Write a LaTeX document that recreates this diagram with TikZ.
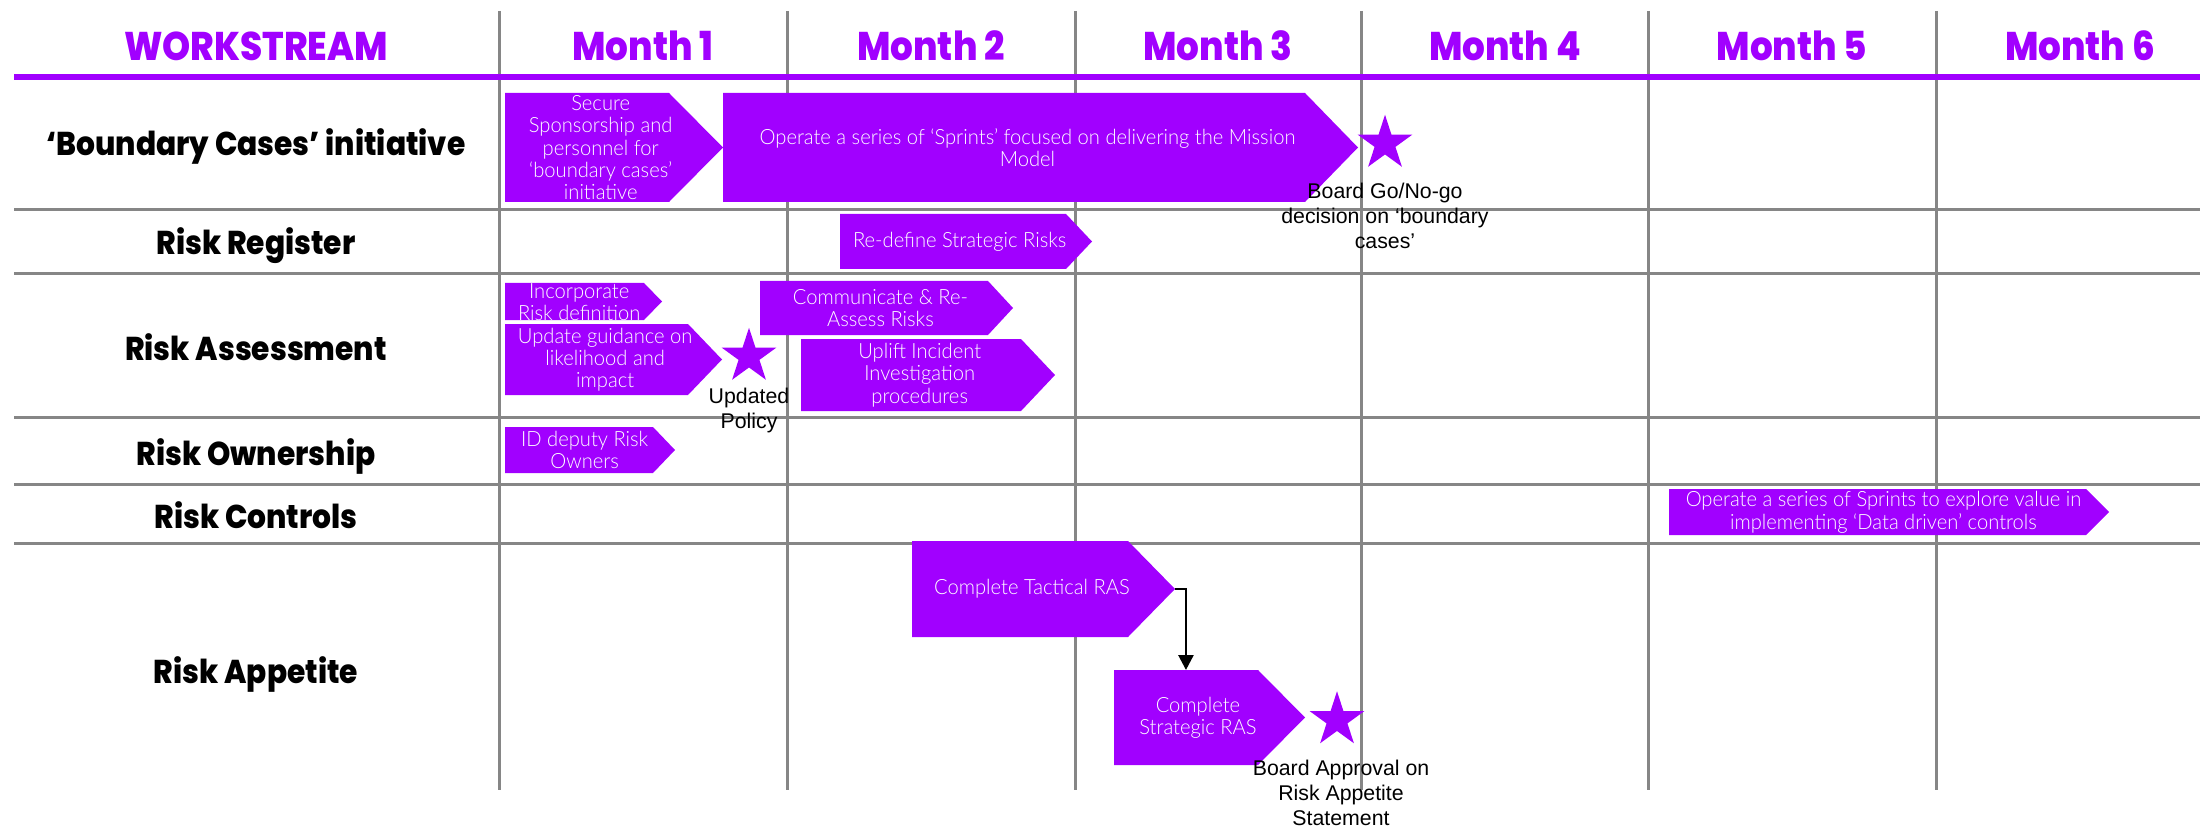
\documentclass[tikz,border=0pt]{standalone}
\usepackage{fontspec}
\usetikzlibrary{shapes.geometric,arrows.meta}
\setmainfont{Liberation Sans}
\IfFontExistsTF{Poppins ExtraBold}{\newfontfamily\heavy{Poppins ExtraBold}}{%
  \IfFontExistsTF{Poppins Bold}{\newfontfamily\heavy{Poppins Bold}}{\newfontfamily\heavy{Liberation Sans}[FakeBold=2]}}
\IfFontExistsTF{Lato Light}{\newfontfamily\boxfont{Lato Light}[FakeStretch=0.96]}{\newfontfamily\boxfont{Liberation Sans}}
\definecolor{accpurple}{HTML}{A100FF}
\definecolor{gridgray}{HTML}{868686}
\newcommand\hd[1]{\scalebox{0.895}[1]{#1}}
\newcommand\rl[1]{\scalebox{0.9}[1]{#1}}
% pentagon arrow box: name, left, top, point start, tip, bottom, text
\newcommand\pent[7]{%
  \fill[accpurple] (#2,#3) -- (#4,#3) -- (#5,{(#3+#6)/2}) -- (#4,#6) -- (#2,#6) -- cycle;
  \coordinate (#1tip) at (#5,{(#3+#6)/2});
  \node[boxtxt, minimum width={(#4+#5)/2-#2}, minimum height={#6-#3}] (#1) at (#2,#3) {#7};
}
\begin{document}
\begin{tikzpicture}[x=1pt,y=-1pt,
  gridline/.style={draw=gridgray, line width=3pt},
  hdrline/.style={draw=accpurple, line width=5.5pt},
  hdr/.style={text=accpurple, font=\heavy\fontsize{40}{44}\selectfont, anchor=base, inner sep=0pt},
  rowlbl/.style={text=black, font=\heavy\fontsize{33}{38}\selectfont, anchor=base, inner sep=0pt},
  boxtxt/.style={text=white, font=\boxfont\fontsize{21}{22.4}\selectfont, align=center, inner sep=0pt, anchor=north west},
  mile/.style={star, star points=5, star point ratio=2.618, fill=accpurple, draw=none, inner sep=0pt, minimum size=57.5pt},
  mlbl/.style={text=black, font=\fontsize{21.3}{25.3}\selectfont, align=center, inner sep=0pt, anchor=north},
  conn/.style={draw=black, line width=2.6pt, -{Triangle[length=15pt,width=15pt]}}
]
\useasboundingbox (0,0) rectangle (2200,826);
% grid
\foreach \x in {499.5,787,1075,1361.5,1648,1936} \draw[gridline] (\x,11) -- (\x,790);
\foreach \y in {210,274,417,484,543} \draw[gridline] (14,\y) -- (2200,\y);
\draw[hdrline] (14,77) -- (2200,77);
% headers
\node[hdr] (hws) at (256,61) {\hd{WORKSTREAM}};
\node[hdr] (hm1) at (643,61) {\hd{Month 1}};
\node[hdr] (hm2) at (931,61) {\hd{Month 2}};
\node[hdr] (hm3) at (1218,61) {\hd{Month 3}};
\node[hdr] (hm4) at (1505,61) {\hd{Month 4}};
\node[hdr] (hm5) at (1792,61) {\hd{Month 5}};
\node[hdr] (hm6) at (2080,61) {\hd{Month 6}};
% row labels
\node[rowlbl] (r1) at (256,156) {\rl{‘Boundary Cases’ initiative}};
\node[rowlbl] (r2) at (256,254.5) {\rl{Risk Register}};
\node[rowlbl] (r3) at (256,360.5) {\rl{Risk Assessment}};
\node[rowlbl] (r4) at (256,465.5) {\rl{Risk Ownership}};
\node[rowlbl] (r5) at (256,528.5) {\rl{Risk Controls}};
\node[rowlbl] (r6) at (256,683.5) {\rl{Risk Appetite}};
% activity boxes
\pent{secure}{505}{93}{669}{723}{202}{Secure\\Sponsorship and\\personnel for\\‘boundary cases’\\initiative}
\pent{sprint}{723}{93}{1305}{1358}{202}{Operate a series of ‘Sprints’ focused on delivering the Mission\\Model}
\pent{redef}{840}{214}{1066}{1092}{269}{Re-define Strategic Risks}
\pent{incorp}{505}{283}{644}{662}{320}{Incorporate\\Risk definition}
\pent{update}{505}{324}{688}{722}{395}{Update guidance on\\likelihood and\\impact}
\pent{comm}{760}{281}{988}{1013}{335}{Communicate \& Re-\\Assess Risks}
\pent{uplift}{801}{339}{1021}{1055}{411}{Uplift Incident\\Investigation\\procedures}
\pent{iddep}{505}{427}{653}{675}{473}{ID deputy Risk\\Owners}
\pent{datadr}{1669}{489}{2086}{2109}{535}{Operate a series of Sprints to explore value in\\implementing ‘Data driven’ controls}
\pent{tact}{912}{541}{1128}{1175}{637}{Complete Tactical RAS}
\pent{strat}{1114}{670}{1258}{1305}{765}{Complete\\Strategic RAS}
% milestones
\node[mile] (m1) at (1385,143.5) {};
\node[mile] (m2) at (749,356.5) {};
\node[mile] (m3) at (1337,720) {};
\node[mlbl] (m1l) at (1385,182.5) {Board Go/No-go\\decision on ‘boundary\\cases’};
\node[mlbl] (m2l) at (749,387.5) {Updated\\Policy};
\node[mlbl] (m3l) at (1341,759.5) {Board Approval on\\Risk Appetite\\Statement};
% connector
\draw[conn] (tacttip) -| ([xshift=-12pt]strat.north);
\end{tikzpicture}
\end{document}
